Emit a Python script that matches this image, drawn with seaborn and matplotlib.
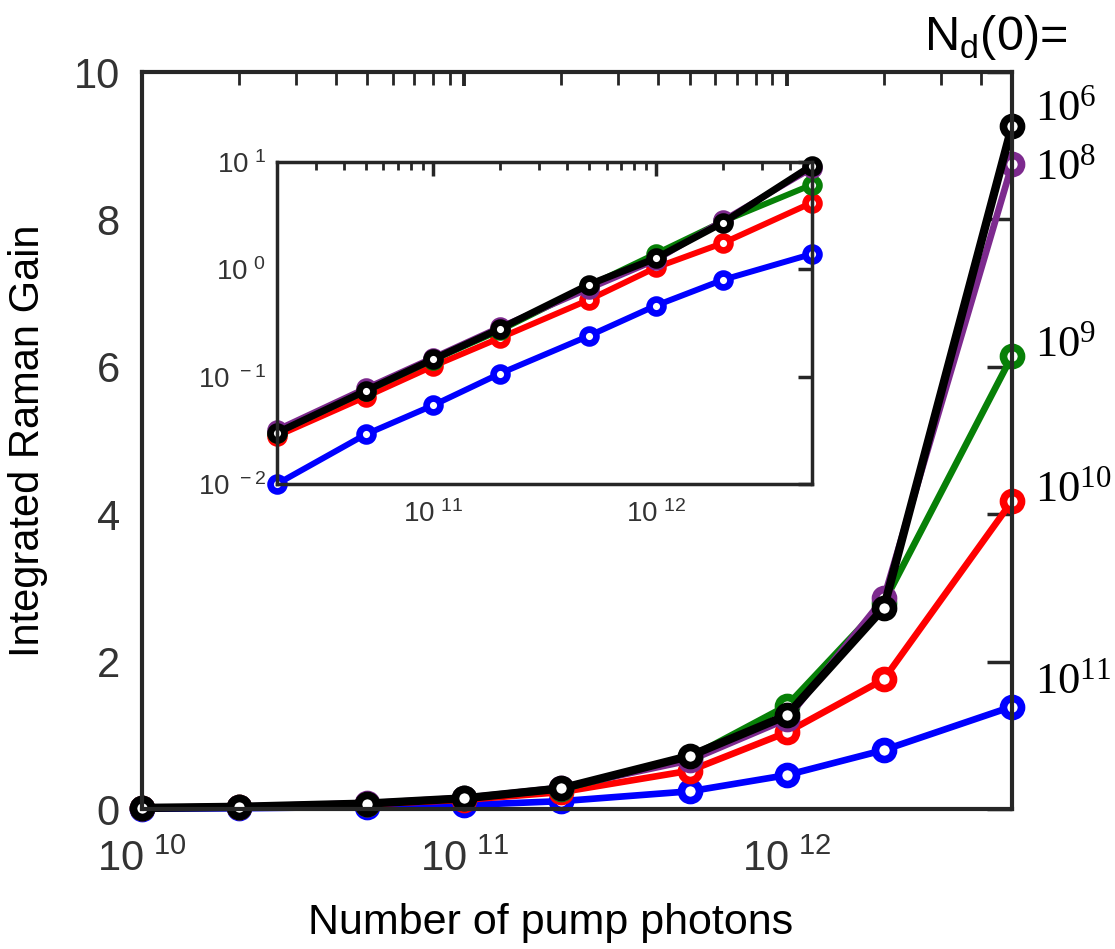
import numpy as np
import pandas as pd
import seaborn as sns
import matplotlib.pyplot as plt
from matplotlib.ticker import NullLocator, LogLocator

sns.set_theme(style="white")
plt.rcParams['font.family'] = ['Liberation Sans', 'DejaVu Sans']

# number of pump photons
photons = [1e10, 2e10, 5e10, 1e11, 2e11, 5e11, 1e12, 2e12, 5e12]

# integrated Raman gain for each initial N_d(0)
gain_1e6 = [0.015, 0.030, 0.074, 0.145, 0.28, 0.72, 1.27, 2.73, 9.27]
gain_1e8 = [0.016, 0.032, 0.078, 0.150, 0.29, 0.66, 1.22, 2.86, 8.75]
gain_1e9 = [0.015, 0.030, 0.073, 0.143, 0.27, 0.70, 1.40, 2.80, 6.15]
gain_1e10 = [0.014, 0.028, 0.065, 0.125, 0.23, 0.52, 1.04, 1.76, 4.18]
gain_1e11 = [0.005, 0.010, 0.029, 0.054, 0.107, 0.24, 0.46, 0.80, 1.39]

series_names = ['1e6', '1e8', '1e9', '1e10', '1e11']
series_vals = [gain_1e6, gain_1e8, gain_1e9, gain_1e10, gain_1e11]
series_labels = [r'$\mathregular{10^{6}}$', r'$\mathregular{10^{8}}$', r'$\mathregular{10^{9}}$',
                 r'$\mathregular{10^{10}}$', r'$\mathregular{10^{11}}$']
colors = ['black', '#7d2a8e', '#078007', '#ff0000', '#0000ff']
label_dy = [17, -4, 10, 11, 24]

main_yticks = [0, 2, 4, 6, 8, 10]
main_xticks = [1e10, 1e11, 1e12]
main_xticklabels = [r'$\mathregular{10^{\ 10}}$', r'$\mathregular{10^{\ 11}}$', r'$\mathregular{10^{\ 12}}$']
inset_yticks = [1e-2, 1e-1, 1e0, 1e1]
inset_yticklabels = [r'$\mathregular{10^{\ -2}}$', r'$\mathregular{10^{\ -1}}$',
                     r'$\mathregular{10^{\ 0}}$', r'$\mathregular{10^{\ 1}}$']
inset_xticks = [1e11, 1e12]
inset_xticklabels = [r'$\mathregular{10^{\ 11}}$', r'$\mathregular{10^{\ 12}}$']

df = pd.DataFrame({'photons': photons})
for name, vals in zip(series_names, series_vals):
    df[name] = vals

axis_col = '#262626'

fig = plt.figure(figsize=(11.15, 9.49), dpi=100)
ax = fig.add_axes([0.1274, 0.1475, 0.7803, 0.7766])
ax_in = fig.add_axes([0.2484, 0.4900, 0.4798, 0.3393])

# main panel, draw blue first so black ends on top
for name, col in list(zip(series_names, colors))[::-1]:
    lw = 6 if col == 'black' else 4.8
    sns.lineplot(data=df, x='photons', y=name, ax=ax, color=col, lw=lw,
                 marker='o', markersize=13, markerfacecolor='white',
                 markeredgecolor=col, markeredgewidth=5.5, clip_on=False,
                 legend=False)

ax.set_xscale('log')
ax.set_xlim(1e10, 5e12)
ax.set_ylim(0, 10)
ax.set_yticks(main_yticks)
ax.set_yticklabels([str(v) for v in main_yticks])
ax.set_xticks(main_xticks)
ax.set_xticklabels(main_xticklabels)
ax.xaxis.set_minor_locator(LogLocator(base=10, subs=np.arange(2, 10)))
ax.tick_params(axis='both', which='both', direction='in', top=True, right=True,
               colors=axis_col, labelcolor='#333333', labelsize=30)
ax.tick_params(axis='y', which='major', length=18, width=2.5, pad=16)
ax.tick_params(axis='x', which='major', length=10, width=2.8, pad=22)
ax.tick_params(axis='x', which='minor', length=9, width=2)
for sp in ax.spines.values():
    sp.set_color(axis_col)
    sp.set_linewidth(3)
ax.set_xlabel('Number of pump photons', fontsize=31, color='black')
ax.set_ylabel('Integrated Raman Gain', fontsize=30, color='black')
ax.xaxis.set_label_coords(0.47, -0.128)
ax.yaxis.set_label_coords(-0.108, 0.5)

for name, lab, dy in zip(series_names, series_labels, label_dy):
    yv = df[name].iloc[-1]
    ax.annotate(lab, xy=(photons[-1], yv), xytext=(23, dy), textcoords='offset pixels',
                ha='left', va='center', fontsize=32, family=['Liberation Serif'],
                color='black', annotation_clip=False)

fig.text(0.829, 0.947, r'N$_{\mathregular{d}}$(0)=', fontsize=35, color='black',
         ha='left', va='baseline')

# inset, log-log
df_in = df.iloc[1:]
for name, col in list(zip(series_names, colors))[::-1]:
    lw = 5 if col == 'black' else 4.3
    sns.lineplot(data=df_in, x='photons', y=name, ax=ax_in, color=col, lw=lw,
                 marker='o', markersize=10, markerfacecolor='white',
                 markeredgecolor=col, markeredgewidth=4.8, clip_on=False,
                 legend=False)

ax_in.set_xscale('log')
ax_in.set_yscale('log')
ax_in.set_xlim(2e10, 5e12)
ax_in.set_ylim(1e-2, 1e1)
ax_in.set_yticks(inset_yticks)
ax_in.set_yticklabels(inset_yticklabels)
ax_in.yaxis.set_minor_locator(NullLocator())
ax_in.set_xticks(inset_xticks)
ax_in.set_xticklabels(inset_xticklabels)
ax_in.xaxis.set_minor_locator(LogLocator(base=10, subs=np.arange(2, 10)))
ax_in.tick_params(axis='both', which='both', direction='in', top=True, right=True,
                  colors=axis_col, labelcolor='#333333', labelsize=20)
ax_in.tick_params(axis='both', which='major', length=10, width=2.5, pad=8)
ax_in.tick_params(axis='x', which='major', pad=12)
ax_in.tick_params(axis='x', which='minor', length=6, width=2)
ax_in.set_xlabel('')
ax_in.set_ylabel('')
for sp in ax_in.spines.values():
    sp.set_color(axis_col)
    sp.set_linewidth(2.5)

fig.savefig('out.png', dpi=100)
